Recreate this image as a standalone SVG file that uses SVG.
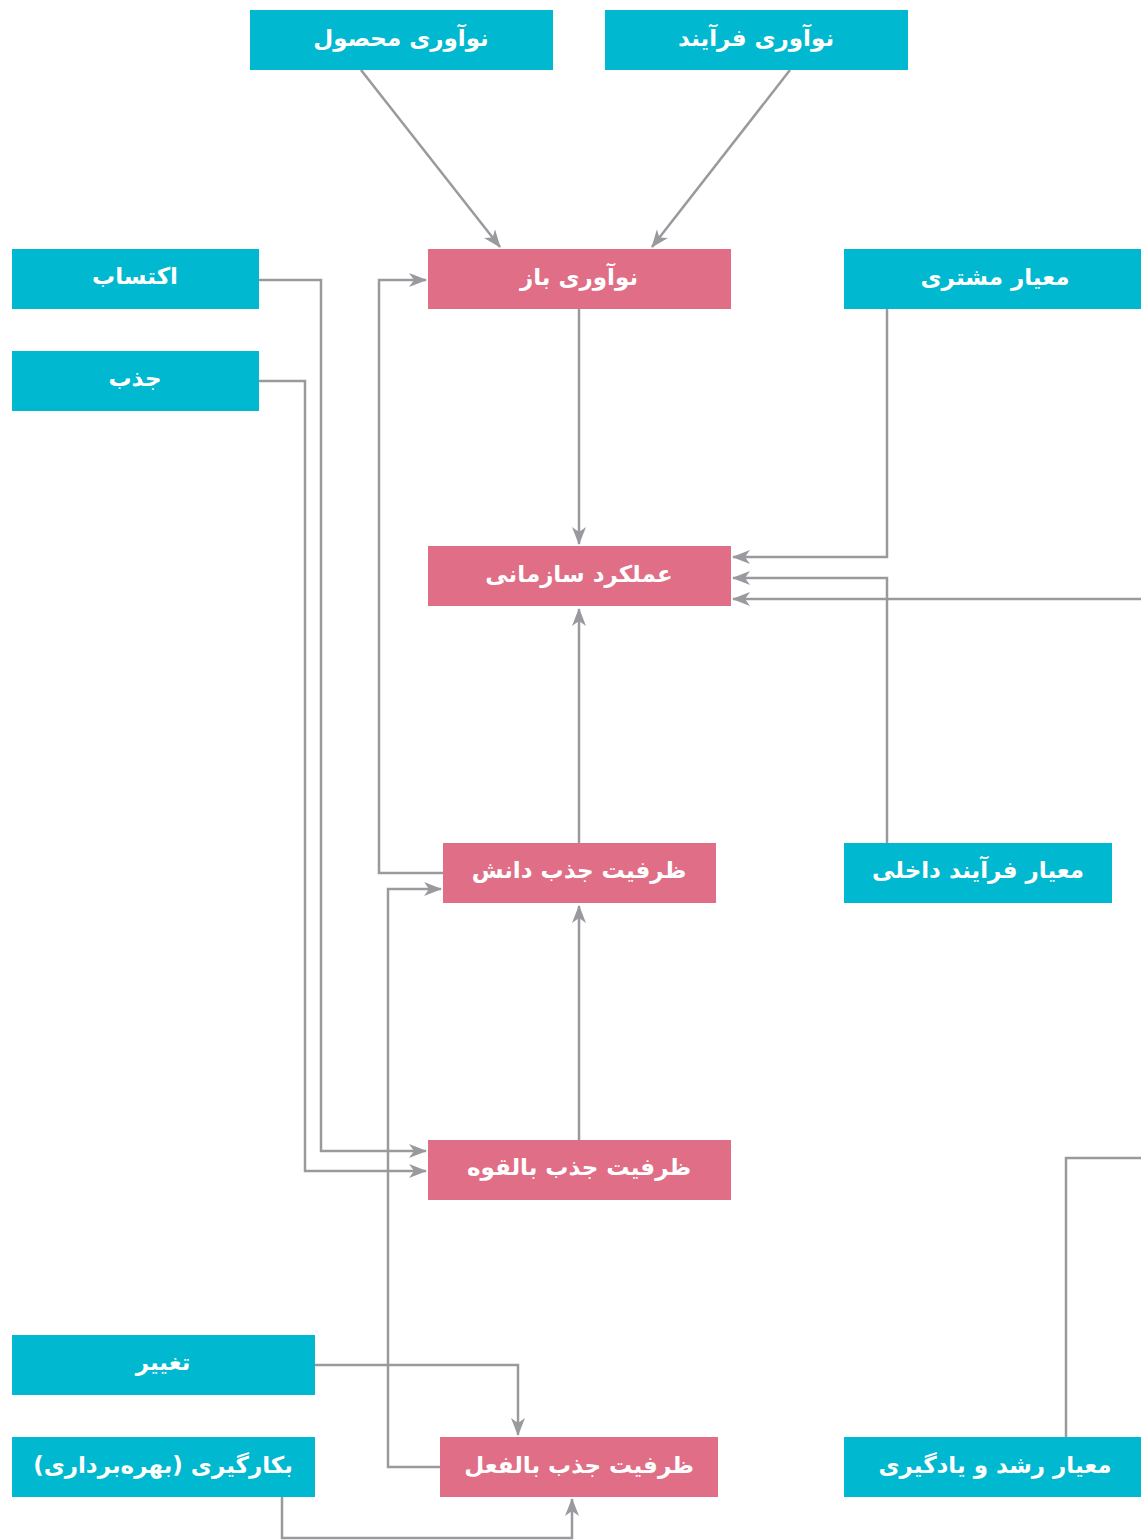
<svg xmlns="http://www.w3.org/2000/svg" width="1141" height="1540" viewBox="0 0 1141 1540">
<defs>
<style>
.c{fill:#00B8CF}
.p{fill:#DF6E86}
.t{fill:#fff;font-family:"DejaVu Sans","Noto Sans",sans-serif;font-weight:bold;font-size:23px;text-anchor:middle;dominant-baseline:central}
.l{fill:none;stroke:#9A9A9E;stroke-width:2.5}
</style>
<marker id="a" markerUnits="userSpaceOnUse" markerWidth="18" markerHeight="16" refX="17" refY="8" orient="auto">
<path d="M0,1 L18,8 L0,15 L5,8 z" fill="#9A9A9E"/>
</marker>
</defs>
<rect width="1141" height="1540" fill="#fff"/>
<g id="connectors">
<path class="l" d="M361,70 L500,247" marker-end="url(#a)"/>
<path class="l" d="M790,70 L652,247" marker-end="url(#a)"/>
<path class="l" d="M579,309 L579,544" marker-end="url(#a)"/>
<path class="l" d="M887,309 L887,557 L733,557" marker-end="url(#a)"/>
<path class="l" d="M887,843 L887,578 L733,578" marker-end="url(#a)"/>
<path class="l" d="M1141,599 L733,599" marker-end="url(#a)"/>
<path class="l" d="M579,843 L579,609" marker-end="url(#a)"/>
<path class="l" d="M443,873 L379,873 L379,280 L426,280" marker-end="url(#a)"/>
<path class="l" d="M259,280 L321,280 L321,1151 L426,1151" marker-end="url(#a)"/>
<path class="l" d="M259,381 L305,381 L305,1171 L426,1171" marker-end="url(#a)"/>
<path class="l" d="M579,1140 L579,906" marker-end="url(#a)"/>
<path class="l" d="M440,1467 L388,1467 L388,889 L441,889" marker-end="url(#a)"/>
<path class="l" d="M315,1365 L518,1365 L518,1435" marker-end="url(#a)"/>
<path class="l" d="M282,1497 L282,1538 L572,1538 L572,1499" marker-end="url(#a)"/>
<path class="l" d="M1066,1437 L1066,1158 L1141,1158"/>
</g>
<g id="n1"><rect class="c" x="250" y="10" width="303" height="60"/><text class="t" x="401" y="38">نوآوری محصول</text></g>
<g id="n2"><rect class="c" x="605" y="10" width="303" height="60"/><text class="t" x="756" y="38">نوآوری فرآیند</text></g>
<g id="n3"><rect class="p" x="428" y="249" width="303" height="60"/><text class="t" x="579" y="277">نوآوری باز</text></g>
<g id="n4"><rect class="c" x="12" y="249" width="247" height="60"/><text class="t" x="135" y="276">اکتساب</text></g>
<g id="n5"><rect class="c" x="12" y="351" width="247" height="60"/><text class="t" x="135" y="378">جذب</text></g>
<g id="n6"><rect class="c" x="844" y="249" width="297" height="60"/><text class="t" x="995" y="277">معیار مشتری</text></g>
<g id="n7"><rect class="p" x="428" y="546" width="303" height="60"/><text class="t" x="579" y="574">عملکرد سازمانی</text></g>
<g id="n8"><rect class="p" x="443" y="843" width="273" height="60"/><text class="t" x="579" y="870">ظرفیت جذب دانش</text></g>
<g id="n9"><rect class="c" x="844" y="843" width="268" height="60"/><text class="t" x="978" y="870">معیار فرآیند داخلی</text></g>
<g id="n10"><rect class="p" x="428" y="1140" width="303" height="60"/><text class="t" x="579" y="1167">ظرفیت جذب بالقوه</text></g>
<g id="n11"><rect class="c" x="12" y="1335" width="303" height="60"/><text class="t" x="163" y="1362">تغییر</text></g>
<g id="n12"><rect class="c" x="12" y="1437" width="303" height="60"/><text class="t" x="163" y="1465">بکارگیری (بهره‌برداری)</text></g>
<g id="n13"><rect class="p" x="440" y="1437" width="278" height="60"/><text class="t" x="579" y="1465">ظرفیت جذب بالفعل</text></g>
<g id="n14"><rect class="c" x="844" y="1437" width="297" height="60"/><text class="t" x="995" y="1465">معیار رشد و یادگیری</text></g>
</svg>
